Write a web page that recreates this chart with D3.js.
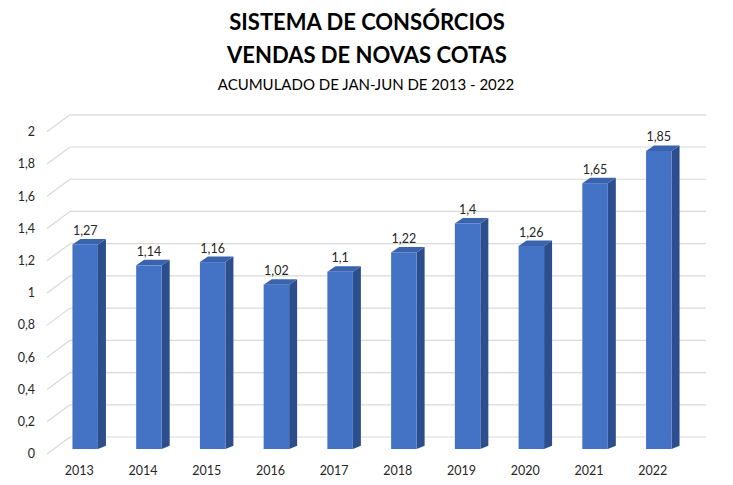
<!DOCTYPE html>
<html><head><meta charset="utf-8">
<script src="https://cdn.jsdelivr.net/npm/d3@7"></script>
<style>body{margin:0;background:#fff}svg{display:block}</style>
</head><body>
<script>
const categories = ["2013","2014","2015","2016","2017","2018","2019","2020","2021","2022"];
const values = [1.27,1.14,1.16,1.02,1.1,1.22,1.4,1.26,1.65,1.85];
const valueLabels = ["1,27","1,14","1,16","1,02","1,1","1,22","1,4","1,26","1,65","1,85"];
const yTicks = [0,0.2,0.4,0.6,0.8,1,1.2,1.4,1.6,1.8,2];
const yTickLabels = ["0","0,2","0,4","0,6","0,8","1","1,2","1,4","1,6","1,8","2"];
const titleLines = ["SISTEMA DE CONSÓRCIOS","VENDAS DE NOVAS COTAS"];
const subtitle = "ACUMULADO DE JAN-JUN DE 2013 - 2022";

const W=733,H=485;
const svg=d3.select("body").append("svg").attr("width",W).attr("height",H);
const font="Lato, 'Open Sans', sans-serif";

// front plane of bars
const y=d3.scaleLinear().domain([0,2]).range([449,126.8]);
const x=d3.scalePoint().domain(categories).range([85.2,658.8]);
const bw=25.5, dx=8, dy=5.5;
const backDy=-12, labelDy=5;
const wallX0=70, wallX1=706, floorX0=47;

// gridlines
const g=svg.append("g");
yTicks.forEach((t,i)=>{
  const yb=y(t)+backDy, yf=y(t)+labelDy;
  g.append("line").attr("x1",wallX0).attr("x2",wallX1).attr("y1",yb).attr("y2",yb)
    .attr("stroke","#d9d9d9").attr("stroke-width",1.2);
  g.append("line").attr("x1",floorX0).attr("x2",wallX0).attr("y1",yf).attr("y2",yb)
    .attr("stroke","#d9d9d9").attr("stroke-width",1.2);
  g.append("text").attr("x",35).attr("y",yf).attr("dy","0.35em").attr("text-anchor","end")
    .attr("font-family",font).attr("font-size",12.5).attr("fill","#262626").text(yTickLabels[i]);
});

// bars
const bars=svg.append("g");
categories.forEach((c,i)=>{
  const x0=x(c)-bw/2, x1=x(c)+bw/2, yt=y(values[i]), yb=y(0);
  // side face
  bars.append("path").attr("d",`M${x1},${yt}L${x1+dx},${yt-dy}L${x1+dx},${yb-3.3}L${x1},${yb}Z`).attr("fill","#2c4e8c");
  // top face
  bars.append("path").attr("d",`M${x0},${yt}L${x0+dx},${yt-dy}L${x1+dx},${yt-dy}L${x1},${yt}Z`).attr("fill","#3a63ad");
  // front
  bars.append("rect").attr("x",x0).attr("y",yt).attr("width",bw).attr("height",yb-yt).attr("fill","#4472c4");
  bars.append("text").attr("x",x(c)).attr("y",yt-9.5).attr("text-anchor","middle")
    .attr("font-family",font).attr("font-size",12.5).attr("fill","#262626").text(valueLabels[i]);
  bars.append("text").attr("x",x(c)-6).attr("y",475).attr("text-anchor","middle")
    .attr("font-family",font).attr("font-size",12.5).attr("fill","#262626").text(c);
});

// titles
svg.append("text").attr("x",367).attr("y",30).attr("text-anchor","middle").attr("font-family",font)
  .attr("font-weight","bold").attr("font-size",22).attr("fill","#000").text(titleLines[0]);
svg.append("text").attr("x",367).attr("y",63).attr("text-anchor","middle").attr("font-family",font)
  .attr("font-weight","bold").attr("font-size",22).attr("fill","#000").text(titleLines[1]);
svg.append("text").attr("x",366).attr("y",90).attr("text-anchor","middle").attr("font-family",font)
  .attr("font-size",15).attr("fill","#000").text(subtitle);
</script>
</body></html>
